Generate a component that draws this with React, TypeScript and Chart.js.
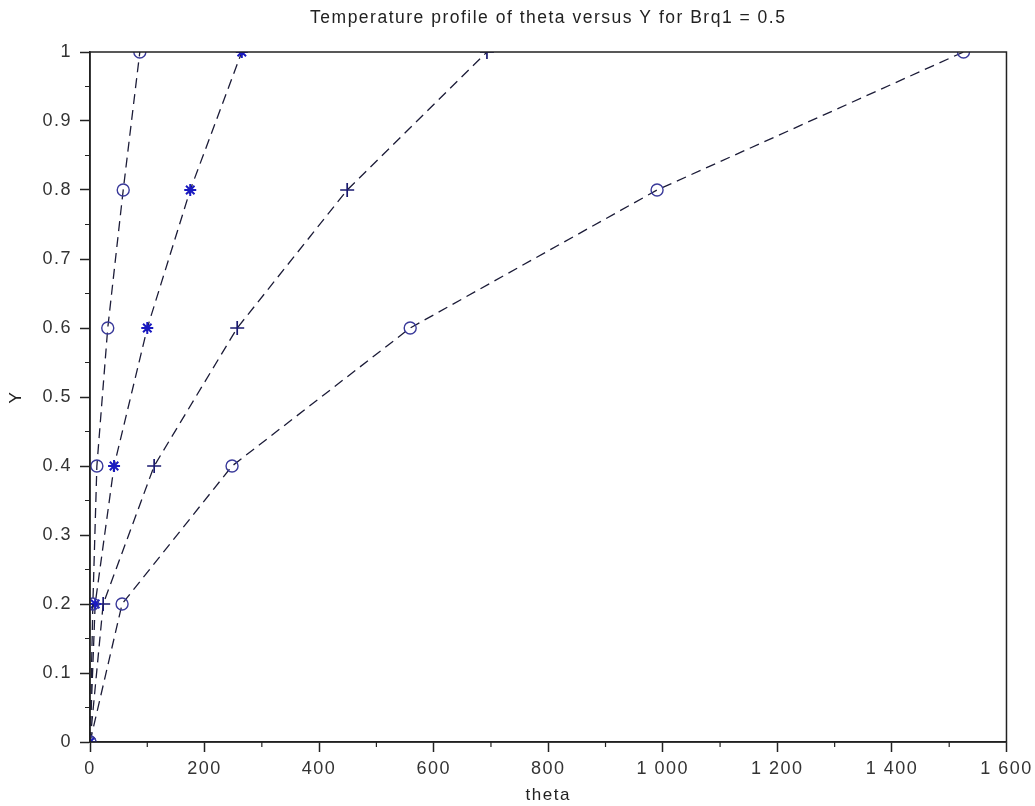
import React, { useEffect, useRef } from "react";
import { Chart, registerables } from "chart.js";

Chart.register(...registerables);

const yValues = [0, 0.2, 0.4, 0.6, 0.8, 1];
const thetaA = [0, 5, 12, 31, 58, 87];
const thetaB = [0, 9, 42, 100, 175, 265];
const thetaC = [0, 23, 112, 257, 449, 693];
const thetaD = [0, 56, 248, 559, 990, 1525];

const xMinorTicks = [100, 300, 500, 700, 900, 1100, 1300, 1500];
const yMinorTicks = [0.05, 0.15, 0.25, 0.35, 0.45, 0.55, 0.65, 0.75, 0.85, 0.95];

const titleText = "Temperature profile of theta versus Y for Brq1 = 0.5";
const xTitle = "theta";
const yTitle = "Y";

const FONT = "'Liberation Sans', Arial, sans-serif";

function toPoints(xs: number[]) {
  return xs.map((x, i) => ({ x, y: yValues[i] }));
}

const framePlugin = {
  id: "frameAndMinor",
  afterLayout(chart: any) {
    const tb = chart.titleBlock;
    if (tb) {
      tb.left = chart.chartArea.left;
      tb.right = chart.chartArea.right;
      tb.width = tb.right - tb.left;
    }
  },
  beforeDraw(chart: any) {
    chart.ctx.letterSpacing = "1.5px";
  },
  afterDraw(chart: any) {
    const { ctx, chartArea } = chart;
    const xs = chart.scales.x;
    const ys = chart.scales.y;
    ctx.save();
    ctx.strokeStyle = "#222";
    ctx.lineWidth = 1.5;
    ctx.strokeRect(chartArea.left, chartArea.top, chartArea.right - chartArea.left, chartArea.bottom - chartArea.top);
    ctx.lineWidth = 1.2;
    ctx.beginPath();
    for (const v of xMinorTicks) {
      const px = xs.getPixelForValue(v);
      ctx.moveTo(px, chartArea.bottom);
      ctx.lineTo(px, chartArea.bottom + 5);
    }
    for (const v of yMinorTicks) {
      const py = ys.getPixelForValue(v);
      ctx.moveTo(chartArea.left, py);
      ctx.lineTo(chartArea.left - 5, py);
    }
    ctx.stroke();
    ctx.restore();
  },
};

const LINE = "#1c1c38";
const DASH = [10, 6];

export default function App() {
  const ref = useRef<HTMLCanvasElement | null>(null);
  useEffect(() => {
    if (!ref.current) return;
    const chart = new Chart(ref.current, {
      type: "scatter",
      data: {
        datasets: [
          {
            label: "A",
            data: toPoints(thetaA),
            showLine: true,
            borderColor: LINE,
            borderWidth: 1.3,
            borderDash: DASH,
            pointStyle: "circle",
            pointRadius: 6,
            pointBorderColor: "#3a3a9a",
            pointBackgroundColor: "rgba(255,255,255,0)",
            pointBorderWidth: 1.4,
            clip: 0,
          } as any,
          {
            label: "B",
            data: toPoints(thetaB),
            showLine: true,
            borderColor: LINE,
            borderWidth: 1.3,
            borderDash: DASH,
            pointStyle: "star",
            pointRadius: 6,
            pointBorderColor: "#1a1ac0",
            pointBackgroundColor: "#1a1ac0",
            pointBorderWidth: 2,
            clip: 0,
          } as any,
          {
            label: "C",
            data: toPoints(thetaC),
            showLine: true,
            borderColor: LINE,
            borderWidth: 1.3,
            borderDash: DASH,
            pointStyle: "cross",
            pointRadius: 7,
            pointBorderColor: "#1a1a70",
            pointBorderWidth: 1.7,
            clip: 0,
          } as any,
          {
            label: "D",
            data: toPoints(thetaD),
            showLine: true,
            borderColor: LINE,
            borderWidth: 1.3,
            borderDash: DASH,
            pointStyle: "circle",
            pointRadius: 6,
            pointBorderColor: "#3a3a9a",
            pointBackgroundColor: "rgba(255,255,255,0)",
            pointBorderWidth: 1.4,
            clip: 0,
          } as any,
        ],
      },
      options: {
        animation: false,
        responsive: false,
        maintainAspectRatio: false,
        layout: { padding: { left: 0, right: 28, top: 0, bottom: 0 } },
        plugins: {
          legend: { display: false },
          tooltip: { enabled: false },
          title: {
            display: true,
            text: titleText,
            color: "#222",
            font: { family: FONT, size: 17.5, weight: "normal", lineHeight: 1.2 },
            padding: { top: 8, bottom: 23 },
          },
        },
        scales: {
          x: {
            type: "linear",
            min: 0,
            max: 1600,
            afterFit: (s: any) => {
              s.height = 64;
            },
            ticks: {
              stepSize: 200,
              color: "#333",
              padding: 6,
              font: { family: FONT, size: 18 },
              maxRotation: 0,
              callback: (v: any) => {
                const n = Number(v);
                return n >= 1000 ? `${Math.floor(n / 1000)} ${String(n % 1000).padStart(3, "0")}` : String(n);
              },
            },
            grid: {
              drawOnChartArea: false,
              drawTicks: true,
              tickLength: 10,
              tickColor: "#222",
              tickWidth: 1.5,
            },
            border: { color: "#222", width: 1.5 },
            title: {
              display: true,
              text: xTitle,
              color: "#222",
              font: { family: FONT, size: 17 },
              padding: { top: 0, bottom: 0 },
            },
          },
          y: {
            type: "linear",
            min: 0,
            max: 1,
            afterFit: (s: any) => {
              s.width = 90;
            },
            ticks: {
              stepSize: 0.1,
              color: "#333",
              padding: 8,
              font: { family: FONT, size: 18 },
              callback: (v: any) => String(Math.round(Number(v) * 10) / 10),
            },
            grid: {
              drawOnChartArea: false,
              drawTicks: true,
              tickLength: 10,
              tickColor: "#222",
              tickWidth: 1.5,
            },
            border: { color: "#222", width: 1.5 },
            title: {
              display: true,
              text: yTitle,
              color: "#222",
              font: { family: FONT, size: 17 },
              padding: { top: 6, bottom: 0 },
            },
          },
        },
      },
      plugins: [framePlugin],
    });
    return () => chart.destroy();
  }, []);
  return (
    <div style={{ position: "absolute", left: 0, top: 0, width: 1035, height: 806, background: "#fff" }}>
      <canvas ref={ref} width={1035} height={806} />
    </div>
  );
}
